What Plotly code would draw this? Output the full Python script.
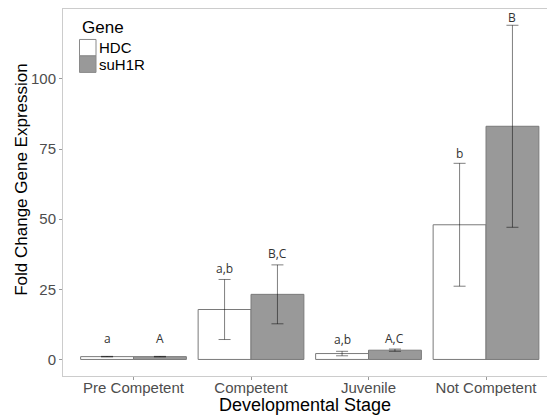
import plotly.graph_objects as go

stages = ["Pre Competent", "Competent", "Juvenile", "Not Competent"]
genes = ["HDC", "suH1R"]
hdc_mean = [1.0, 17.8, 2.1, 48.0]
hdc_err = [0.1, 10.7, 0.8, 21.9]
suh1r_mean = [1.0, 23.2, 3.3, 83.1]
suh1r_err = [0.1, 10.5, 0.4, 36.0]
hdc_labels = ["a", "a,b", "a,b", "b"]
suh1r_labels = ["A", "B,C", "A,C", "B"]
hdc_label_y = [7.4, 32.3, 7.1, 73.4]
suh1r_label_y = [7.4, 37.8, 7.5, 121.7]
y_ticks = [0, 25, 50, 75, 100]

fills = ["#ffffff", "#999999"]
outline = "#7a7a7a"
errcol = "rgba(0,0,0,0.5)"

W, H = 547, 416
ML, MT, MR = 63, 9, 0
MB = H - 376.5
PW, PH = W - ML - MR, H - MT - MB


def px_x(px):
    """window pixel x -> paper coordinate"""
    return (px - ML) / PW


def px_y(py):
    """window pixel y -> paper coordinate"""
    return (H - MB - py) / PH


fig = go.Figure()
for name, mean, err, fill in [(genes[0], hdc_mean, hdc_err, fills[0]),
                              (genes[1], suh1r_mean, suh1r_err, fills[1])]:
    fig.add_trace(go.Bar(
        x=stages, y=mean, name=name, showlegend=False,
        marker=dict(color=fill, line=dict(color=outline, width=1)),
        error_y=dict(type="data", array=err, visible=True,
                     color=errcol, thickness=1, width=6),
    ))

half = 0.225
annots = []
for i in range(len(stages)):
    for lab, ly, off in [(hdc_labels[i], hdc_label_y[i], -half),
                         (suh1r_labels[i], suh1r_label_y[i], half)]:
        annots.append(dict(x=i + off, y=ly, xref="x", yref="y", text=lab,
                           showarrow=False,
                           font=dict(family="Open Sans", size=12, color="#333333")))

# axis titles
annots.append(dict(x=px_x(305), y=px_y(406), xref="paper", yref="paper",
                   text="Developmental Stage", showarrow=False,
                   xanchor="center", yanchor="middle",
                   font=dict(size=18, color="#000000")))
annots.append(dict(x=px_x(22), y=px_y(180), xref="paper", yref="paper",
                   text="Fold Change Gene Expression", showarrow=False,
                   textangle=-90, xanchor="center", yanchor="middle",
                   font=dict(size=17, color="#000000")))

# legend (drawn inside the panel, top-left)
annots.append(dict(x=px_x(80), y=px_y(28), xref="paper", yref="paper",
                   text="Gene", showarrow=False, xanchor="left", yanchor="middle",
                   font=dict(size=17, color="#000000")))
shapes = []
key_tops = [39.5, 56]
key_h = 16.5
for g, fill, top in zip(genes, fills, key_tops):
    shapes.append(dict(type="rect", xref="paper", yref="paper",
                       x0=px_x(79.5), x1=px_x(96), y0=px_y(top + key_h), y1=px_y(top),
                       fillcolor=fill, line=dict(color="#8a8a8a", width=1)))
    annots.append(dict(x=px_x(97), y=px_y(top + key_h / 2), xref="paper", yref="paper",
                       text=g, showarrow=False, xanchor="left", yanchor="middle",
                       font=dict(size=15, color="#000000")))

fig.update_layout(
    width=W, height=H,
    margin=dict(l=ML, r=MR, t=MT, b=MB, pad=0),
    paper_bgcolor="white", plot_bgcolor="white",
    barmode="group", bargap=0.1, bargroupgap=0,
    font=dict(family="Liberation Sans", color="#000000"),
    annotations=annots, shapes=shapes,
    showlegend=False,
    xaxis=dict(
        range=[-0.6, 3.519], automargin=False,
        showline=True, linecolor="#cccccc", linewidth=1, mirror=True,
        ticks="outside", ticklen=3, tickcolor="#999999",
        tickfont=dict(size=15, color="#4d4d4d"),
        ticklabelstandoff=-5,
        showgrid=False, zeroline=False,
    ),
    yaxis=dict(
        range=[-5.9, 124.9], automargin=False,
        tickvals=y_ticks,
        showline=True, linecolor="#cccccc", linewidth=1,
        ticks="outside", ticklen=3, tickcolor="#999999",
        tickfont=dict(size=15, color="#4d4d4d"),
        showgrid=False, zeroline=False,
    ),
)

fig.write_html(
    "out.html",
    config={"displayModeBar": False},
    post_script="document.body.style.margin='0';document.body.style.overflow='hidden';",
)
